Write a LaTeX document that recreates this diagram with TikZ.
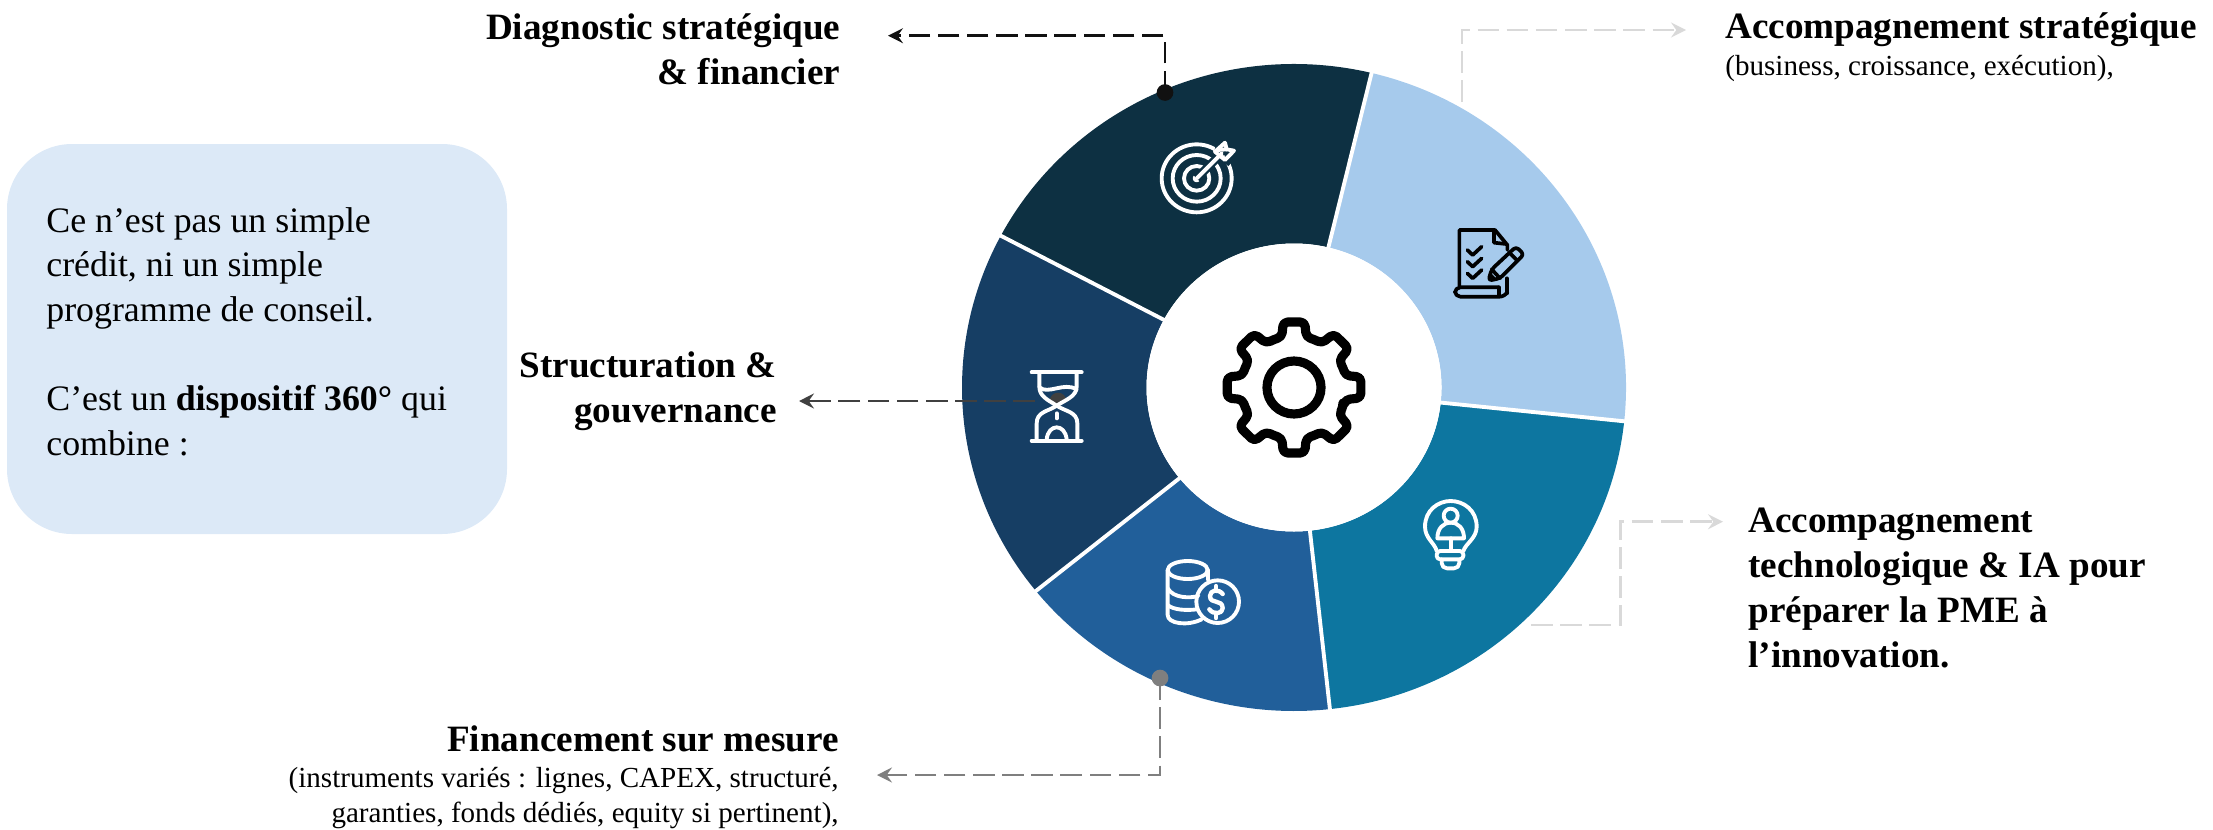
\documentclass[tikz,border=0pt]{standalone}
\usepackage{fontspec}
\setmainfont{Liberation Serif}
\usetikzlibrary{arrows.meta}
\definecolor{cNavy}{HTML}{0D3042}
\definecolor{cLight}{HTML}{A6CAEC}
\definecolor{cTeal}{HTML}{0D76A0}
\definecolor{cBlue}{HTML}{215F9A}
\definecolor{cDark}{HTML}{163E64}
\definecolor{cBox}{HTML}{DCE9F7}
\definecolor{cGreyA}{HTML}{D9D9D9}
\definecolor{cGreyB}{HTML}{7F7F7F}
\definecolor{cGreyC}{HTML}{404040}
\definecolor{cBlack}{HTML}{111111}
\tikzset{
  head/.style={inner sep=0pt,font=\fontsize{21.15}{25.6}\selectfont\bfseries},
  detail/.style={inner sep=0pt,font=\fontsize{16.55}{19.9}\selectfont},
  boxtext/.style={inner sep=0pt,font=\fontsize{20.4}{25.4}\selectfont},
  conn/.style={line width=1.6pt,dash pattern=on 12.3pt off 4.3pt,
    -{Stealth[length=8.5pt,width=8.5pt,inset=3pt]}},
  dotmark/.style={circle,minimum size=9.5pt,inner sep=0pt},
  iconw/.style={draw=white,line width=2.2pt,line cap=round,line join=round},
  iconk/.style={draw=black,line width=2.1pt,line cap=round,line join=round},
  sep/.style={draw=white,line width=2.2pt}
}
\begin{document}
\begin{tikzpicture}[x=0.02cm,y=-0.02cm]
\useasboundingbox (0,0) rectangle (2213,829);
% text box
\fill[cBox,rounded corners=37pt] (7,144) rectangle (507,534);
\node[boxtext,anchor=north west,align=left] (boxT) at (46,207)
 {Ce n’est pas un simple\\crédit, ni un simple\\programme de conseil.\\[25.4pt]C’est un \textbf{dispositif 360°} qui\\combine :};
% ring
\begin{scope}[shift={(1294,387.5)},x=0.02cm,y=0.02cm]
 \def\wedge#1#2#3{\fill[#1] (#2:332 and 323.5) arc[start angle=#2,end angle=#3,x radius=332,y radius=323.5]
    -- (#3:147.5 and 144) arc[start angle=#3,end angle=#2,x radius=147.5,y radius=144] -- cycle;}
 \wedge{cNavy}{76.5}{152}
 \wedge{cDark}{152}{219}
 \wedge{cBlue}{219}{276.2}
 \wedge{cTeal}{276.2}{354}
 \wedge{cLight}{354}{436.5}
 \foreach \t in {76.5,152,219,276.2,354}
   \draw[sep] (\t:140 and 137) -- (\t:338 and 329);
 \fill[white] (0,0) ellipse[x radius=147.5,y radius=144];
\end{scope}
% connector anchors
\coordinate (dDiag) at (1165,92.5);
\coordinate (aDiag) at (888,35.7);
\coordinate (sStrat) at (1462,102);
\coordinate (aStrat) at (1686,30);
\coordinate (sTech) at (1531,625);
\coordinate (cTech) at (1620.5,625);
\coordinate (aTech) at (1723,521.7);
\coordinate (dFin) at (1160,678);
\coordinate (aFin) at (877,775);
\coordinate (dStruct) at (1058,401);
\coordinate (sStruct) at (1035,401);
\coordinate (aStruct) at (799,401);
\node[dotmark,fill=cBlack] (nDiag) at (dDiag) {};
\node[dotmark,fill=cGreyB] (nFin) at (dFin) {};
\node[dotmark,fill=cGreyC] (nStruct) at (dStruct) {};
\fill[cDark] (1040,402.5) rectangle (1076,416);
\draw[conn,draw=cBlack] (nDiag.center) |- (aDiag);
\draw[conn,draw=cGreyA] (sStrat) |- (aStrat);
\draw[conn,draw=cGreyA] (sTech) -- (cTech) |- (aTech);
\draw[conn,draw=cGreyB] (nFin.center) |- (aFin);
\draw[conn,draw=cGreyC] (sStruct) -- (aStruct);
% target icon (crop coordinates)
\begin{scope}[shift={(1100,130)},scale=1/3]
 \draw[iconw] (290,145) ellipse[x radius=105,y radius=102];
 \draw[iconw] (290,145) ellipse[x radius=72,y radius=70];
 \draw[iconw] (290,145) ellipse[x radius=38,y radius=37];
 \draw[iconw] (290,145) circle[radius=6];
 \draw[cNavy,line width=5pt] (290,145) -- (352,83);
 \draw[cNavy,line width=5pt] (345,55) -- (400,70) -- (375,100);
 \draw[iconw] (290,145) -- (365,70);
 \draw[iconw] (345,65) -- (375,38) -- (380,58) -- (402,62) -- (375,90) -- cycle;
 \draw[iconw] (352,60) -- (380,58);
\end{scope}
% checklist icon
\begin{scope}[shift={(1100,130)},scale=1/3]
 \draw[iconk] (1078,468) -- (1078,300) -- (1185,300) -- (1222,345) -- (1222,360);
 \draw[iconk] (1182,304) -- (1182,338) -- (1218,342);
 \draw[iconk] (1220,445) -- (1220,490);
 \draw[iconk,rounded corners=3pt] (1197,472) -- (1065,472) -- (1065,500) -- (1215,500) -- (1220,490);
 \draw[iconk] (1197,472) -- (1197,495);
 \foreach \y in {365,400,435}
   \draw[iconk] (1102,\y-5) -- (1118,\y+10) -- (1145,\y-15);
 \draw[iconk,rounded corners=2pt] (1165,452) -- (1175,418) -- (1248,350) -- (1272,373) -- (1200,445) -- cycle;
 \draw[iconk] (1175,418) -- (1200,445);
 \draw[iconk] (1228,368) -- (1252,392);
 \fill[black] (1165,452) -- (1172,428) -- (1190,447) -- cycle;
\end{scope}
% gear
\begin{scope}[shift={(1294,387.5)},xscale=1.02]
 \draw[draw=black,line width=5.2pt,line join=round,rounded corners=2.5pt]
   ([rotate=-22.5]52,0)
   \foreach \a in {0,45,...,315} {
     -- ([rotate=\a]50.5,12) -- ([rotate=\a]65.5,10.5) -- ([rotate=\a]65.5,-10.5) -- ([rotate=\a]50.5,-12) -- ([rotate=\a+22.5]52,0)
   } -- cycle;
 \draw[black,line width=5.2pt] (0,0) circle[radius=26.5];
\end{scope}
% hourglass and coins
\begin{scope}[shift={(980,340)},scale=1/3]
 \draw[iconw] (155,97) -- (305,97);
 \draw[iconw] (155,302) -- (305,302);
 \draw[iconw] (178,100) -- (178,140) .. controls (178,170) and (205,180) .. (230,197)
    .. controls (255,214) and (292,215) .. (292,250) -- (292,300);
 \draw[iconw] (290,100) -- (290,140) .. controls (290,170) and (255,180) .. (230,197)
    .. controls (205,214) and (170,215) .. (170,250) -- (170,300);
 \draw[iconw] (178,142) .. controls (205,165) and (250,125) .. (290,148);
 \draw[iconw] (230,220) -- (230,235);
 \draw[iconw] (200,298) .. controls (205,250) and (255,250) .. (260,298);
 % coins
 \draw[iconw] (623,690) ellipse[x radius=60,y radius=27];
 \draw[iconw] (563,690) -- (563,825) .. controls (563,850) and (620,860) .. (665,838);
 \draw[iconw] (683,690) -- (683,718);
 \draw[iconw] (563,745) .. controls (580,775) and (630,775) .. (655,768);
 \draw[iconw] (563,795) .. controls (580,810) and (620,812) .. (650,808);
 \draw[iconw] (713,785) circle[radius=64];
 \draw[iconw,line width=2.5pt] (728,762) .. controls (715,745) and (690,750) .. (690,768)
   .. controls (690,795) and (728,775) .. (728,805) .. controls (728,822) and (700,825) .. (688,808);
 \draw[iconw,line width=2.5pt] (708,738) -- (708,750);
 \draw[iconw,line width=2.5pt] (708,822) -- (708,834);
\end{scope}
% bulb
\begin{scope}[shift={(1400,480)},scale=1/3]
 \draw[iconw] (110,213) .. controls (105,190) and (75,175) .. (75,140)
   .. controls (75,90) and (115,63) .. (152,63) .. controls (190,63) and (230,90) .. (230,140)
   .. controls (230,175) and (197,190) .. (190,213);
 \draw[iconw] (152,107) circle[radius=21];
 \draw[iconw] (112,175) .. controls (112,145) and (130,128) .. (152,128)
    .. controls (175,128) and (192,145) .. (192,175) -- cycle;
 \draw[iconw] (152,175) -- (152,213);
 \draw[iconw,rounded corners=2pt] (110,213) -- (190,213) -- (190,238) -- (110,238) -- cycle;
 \draw[iconw,rounded corners=3pt] (125,238) -- (125,265) -- (178,265) -- (178,238);
\end{scope}
% labels
\node[head,anchor=north east,align=right] (diag) at (840.5,13.5) {Diagnostic stratégique\\\& financier};
\node[head,anchor=north east,align=right] (struct) at (777,351) {Structuration \&\\gouvernance};
\node[head,anchor=base east] (fin) at (839,751.7) {Financement sur mesure};
\node[detail,anchor=north east,align=right] (finD) at (839,767) {(instruments variés : lignes, CAPEX, structuré,\\garanties, fonds dédiés, equity si pertinent),};
\node[head,anchor=base west] (strat) at (1725,38) {Accompagnement stratégique};
\node[detail,anchor=base west] (stratD) at (1725,75) {(business, croissance, exécution),};
\node[head,anchor=north west,align=left] (tech) at (1748,507.5) {Accompagnement\\technologique \& IA pour\\préparer la PME à\\l’innovation.};
\end{tikzpicture}
\end{document}
